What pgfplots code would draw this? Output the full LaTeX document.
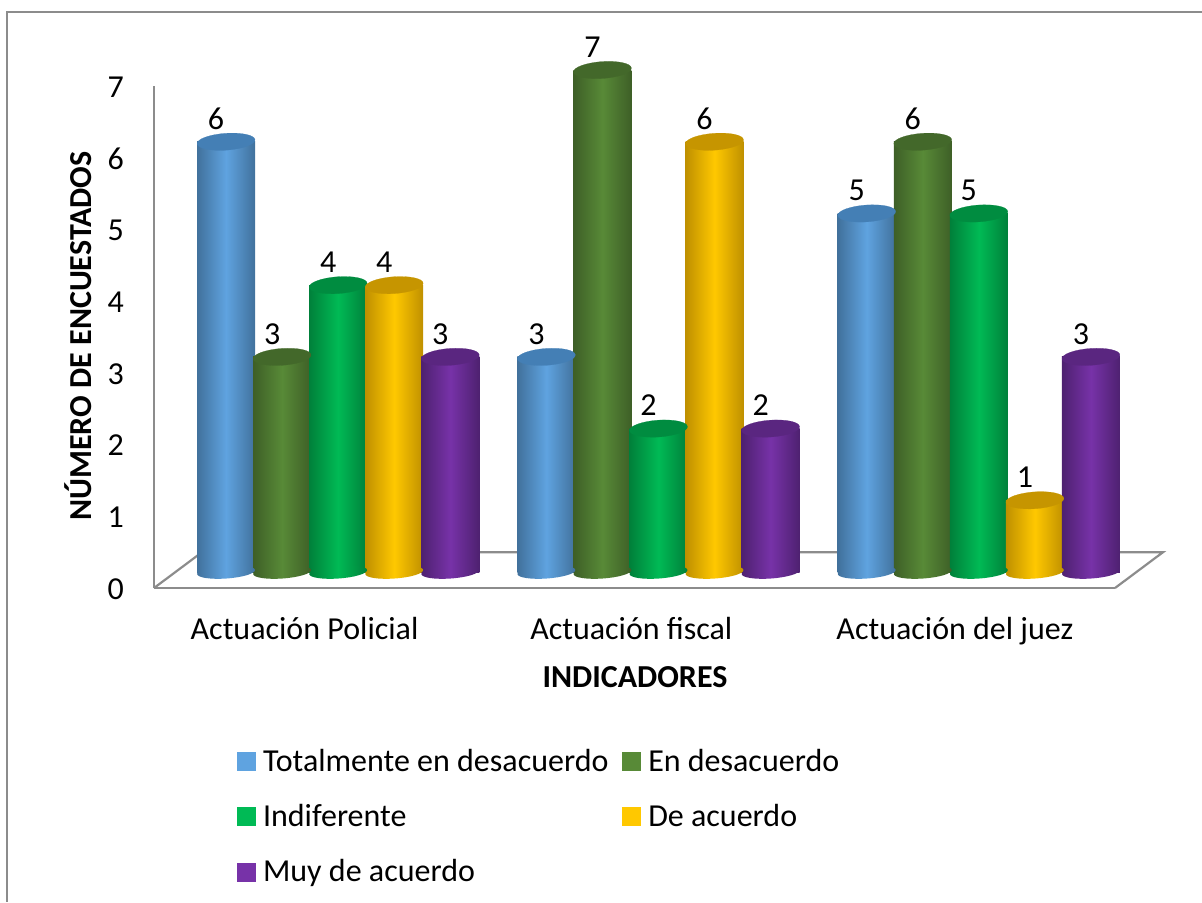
\documentclass[border=0pt]{standalone}
\usepackage{fontspec}
\setmainfont{Carlito}
\usepackage{pgfplots}
\usetikzlibrary{shapes.geometric}
\pgfplotsset{compat=1.18}

\definecolor{edgegray}{HTML}{8C8C8C}
\definecolor{blueM}{HTML}{5FA3E0}
\definecolor{blueD}{HTML}{41719C}
\definecolor{blueT}{HTML}{447FB5}
\definecolor{olivM}{HTML}{588A37}
\definecolor{olivD}{HTML}{3E5F27}
\definecolor{olivT}{HTML}{43682A}
\definecolor{grenM}{HTML}{00BA55}
\definecolor{grenD}{HTML}{00803A}
\definecolor{grenT}{HTML}{008C40}
\definecolor{yellM}{HTML}{FFC800}
\definecolor{yellD}{HTML}{BF9000}
\definecolor{yellT}{HTML}{C69500}
\definecolor{purpM}{HTML}{7732A8}
\definecolor{purpD}{HTML}{4E2170}
\definecolor{purpT}{HTML}{5A2680}

% one cylinder: #1 x position, #2 value, #3 colour prefix
% (one plot per bar, or the shading would run over the whole series)
\newcommand\cylinder[3]{
  \addplot[forget plot,ybar,bar shift=0pt,bar width=29pt,draw=none,cyl,
    left color=#3D,right color=#3D,middle color=#3M]
    coordinates {(#1,#2)};
  % rounded foot, a shaded node since marks end up above the bars anyway
  \addplot[forget plot,draw=none,mark=none,cyl,
    nodes near coords={},
    every node near coord/.style={ellipse,anchor=center,inner sep=0pt,
      minimum width=29pt,minimum height=6.5pt,rotate=4,
      left color=#3D,right color=#3D,middle color=#3M}]
    coordinates {(#1,0)};
  \addplot[forget plot,only marks,mark=*,cyl,mark size=14.5pt,
    mark options={draw=#3T,fill=#3T,line width=0.1pt,rotate=4,yscale=0.29},
    nodes near coords,
    every node near coord/.style={font=\fontsize{16}{16}\selectfont,text=black,
      anchor=center,xshift=-5pt,yshift=11.5pt}]
    coordinates {(#1,#2)};
}
\newcommand\legendsquare[1]{\addlegendimage{legend image code/.code={
  \fill[#1] (0pt,-4.5pt) rectangle (9pt,4.5pt);}}}

\begin{document}
\begin{tikzpicture}
\useasboundingbox (-77pt,-157pt) rectangle (524pt,294pt);
\draw[edgegray,line width=1pt] (524pt,288pt) -- (-73.5pt,288pt) -- (-73.5pt,-157pt);
\begin{axis}[
    scale only axis,
    width=480.5pt,
    height=251pt,
    clip=false,
    xmin=-0.5, xmax=2.5,
    ymin=0, ymax=7,
    axis x line*=bottom,
    axis y line*=left,
    axis line style={edgegray,line width=1.1pt},
    major tick length=0pt,
    xtick={-0.03,0.99,2},
    xticklabels={Actuación Policial,Actuación fiscal,Actuación del juez},
    ytick={0,1,2,3,4,5,6,7},
    /pgf/number format/assume math mode=true,
    tick label style={font=\fontsize{16}{16}\selectfont},
    yticklabel style={xshift=-11.5pt,yshift=-0.5pt},
    xticklabel style={yshift=-11pt},
    xlabel={INDICADORES},
    ylabel={NÚMERO DE ENCUESTADOS},
    label style={font=\fontsize{16}{16}\selectfont\bfseries},
    xlabel style={at={(rel axis cs:0.5005,-0.177)},anchor=center},
    ylabel style={at={(rel axis cs:-0.079,0.502)},anchor=center},
    cyl/.style={xshift=12pt,yshift=8pt},
    legend columns=2,
    legend cell align=left,
    legend style={
      at={(rel axis cs:0.08,-0.304)},anchor=north west,draw=none,fill=none,
      font=\fontsize{16}{16}\selectfont,
      row sep=11pt,
      /tikz/every odd column/.append style={column sep=1.5pt},
      /tikz/every even column/.append style={column sep=5pt},
    },
]
% floor of the 3D box
\addplot[forget plot,no marks,edgegray,line width=1.1pt]
  coordinates {(-0.5,0) (-0.35,0.5) (2.65,0.5) (2.5,0)};

% Actuación Policial
\cylinder{-0.35}{6}{blue}
\cylinder{-0.175}{3}{oliv}
\cylinder{0}{4}{gren}
\cylinder{0.175}{4}{yell}
\cylinder{0.35}{3}{purp}
% Actuación fiscal
\cylinder{0.65}{3}{blue}
\cylinder{0.825}{7}{oliv}
\cylinder{1}{2}{gren}
\cylinder{1.175}{6}{yell}
\cylinder{1.35}{2}{purp}
% Actuación del juez
\cylinder{1.65}{5}{blue}
\cylinder{1.825}{6}{oliv}
\cylinder{2}{5}{gren}
\cylinder{2.175}{1}{yell}
\cylinder{2.35}{3}{purp}

\legendsquare{blueM}
\legendsquare{olivM}
\legendsquare{grenM}
\legendsquare{yellM}
\legendsquare{purpM}
\legend{Totalmente en desacuerdo,En desacuerdo,Indiferente,De acuerdo,Muy de acuerdo}
\end{axis}
\end{tikzpicture}
\end{document}
